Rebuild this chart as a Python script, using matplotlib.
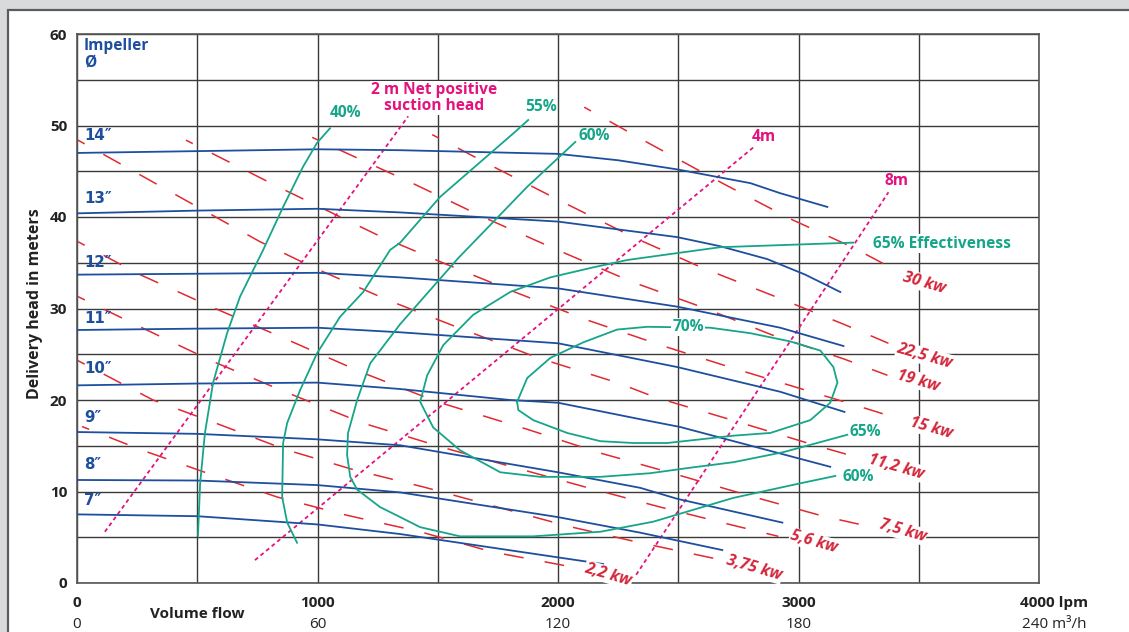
import matplotlib.pyplot as plt
from matplotlib.patches import Rectangle

plt.rcParams['font.family'] = ['Open Sans', 'DejaVu Sans']

# impeller curves (flow in lpm, head in m)
impeller_labels = ['14″', '13″', '12″', '11″', '10″', '9″', '8″', '7″']
impeller_label_h = [48.9, 42.0, 35.0, 28.9, 23.4, 18.1, 13.0, 9.0]
impeller_q = [
    [0, 500, 1000, 1344, 2000, 2250, 2496, 2800, 2924, 3120],
    [0, 500, 1000, 1344, 2000, 2496, 2675, 2870, 3028, 3174],
    [0, 500, 1000, 1344, 2000, 2496, 2924, 3187],
    [0, 500, 1000, 1344, 2000, 2496, 2924, 3191],
    [0, 500, 1000, 1344, 1801, 2000, 2342, 2508, 3132],
    [0, 500, 1000, 1344, 2000, 2342, 2496, 2933],
    [0, 500, 1000, 1344, 2000, 2342, 2683],
    [0, 500, 1000, 1344, 2188],
]
impeller_h = [
    [47.0, 47.2, 47.4, 47.3, 46.9, 46.2, 45.2, 43.7, 42.6, 41.1],
    [40.4, 40.7, 40.9, 40.5, 39.5, 37.8, 36.8, 35.4, 33.7, 31.8],
    [33.7, 33.8, 33.9, 33.4, 32.2, 30.2, 27.9, 25.9],
    [27.65, 27.8, 27.9, 27.4, 26.2, 23.6, 20.9, 18.7],
    [21.6, 21.8, 21.9, 21.2, 20.0, 19.7, 17.9, 17.05, 12.7],
    [16.5, 16.3, 15.7, 15.05, 12.1, 10.4, 9.2, 6.6],
    [11.26, 11.2, 10.7, 9.9, 7.2, 5.5, 3.6],
    [7.5, 7.3, 6.4, 5.35, 2.07],
]

# constant power lines
power_labels = ['30 kw', '22,5 kw', '19 kw', '15 kw', '11,2 kw', '7,5 kw', '5,6 kw', '3,75 kw', '2,2 kw']
power_label_q = [3524, 3524, 3499, 3553, 3407, 3432, 3062, 2816, 2209]
power_label_h = [32.8, 24.8, 22.1, 16.9, 12.7, 5.7, 4.5, 1.6, 0.9]
power_q = [
    [2109, 2375, 2683, 2974, 3224, 3382],
    [1477, 1731, 2022, 2321, 2604, 2904, 3195, 3374],
    [978, 1394, 1697, 1997, 2309, 2604, 2891, 3187, 3370],
    [453, 836, 1260, 1539, 1830, 2126, 2438, 2750, 3228, 3424],
    [4, 399, 761, 990, 1294, 1606, 1918, 2246, 2404, 2737, 3062, 3249],
    [4, 262, 566, 874, 1186, 1498, 1872, 2176, 2475, 2787, 3103, 3307],
    [4, 270, 566, 874, 1186, 1523, 1822, 2126, 2425, 2729, 2916],
    [4, 316, 574, 865, 1148, 1440, 1748, 2043, 2342, 2683],
    [21, 262, 553, 832, 1123, 1427, 1726, 2059],
]
power_h = [
    [52.0, 48.1, 43.7, 39.7, 36.7, 34.5],
    [49.0, 45.5, 41.6, 37.7, 34.4, 31.3, 28.2, 26.2],
    [48.7, 43.7, 39.9, 36.4, 32.9, 30.1, 27.1, 24.5, 22.7],
    [48.4, 43.3, 37.9, 34.8, 31.7, 28.7, 25.9, 23.3, 19.5, 17.9],
    [48.4, 42.6, 37.3, 34.4, 30.9, 27.7, 24.6, 21.9, 20.3, 17.7, 15.1, 13.7],
    [37.3, 33.7, 30.1, 26.6, 23.0, 19.8, 16.8, 14.2, 12.0, 9.6, 7.3, 6.1],
    [31.3, 27.9, 24.2, 20.8, 17.5, 14.8, 12.6, 10.4, 8.3, 6.3, 5.1],
    [24.3, 20.0, 17.5, 14.6, 12.4, 10.5, 8.3, 6.2, 4.4, 2.5],
    [17.1, 14.6, 11.9, 9.4, 7.4, 5.6, 3.4, 1.75],
]

# efficiency curves
eff40_q = [503, 512, 532, 566, 624, 678, 774, 857, 940, 998, 1052]
eff40_h = [5.2, 10.9, 16.4, 21.9, 27.3, 31.3, 36.4, 41.1, 45.5, 48.1, 49.7]
eff55_q = [915, 874, 853, 857, 874, 928, 998, 1094, 1190, 1302, 1344, 1510, 1830, 1876]
eff55_h = [4.4, 6.6, 9.4, 15.3, 17.5, 21.1, 25.1, 29.1, 31.8, 36.4, 37.2, 42.2, 49.5, 50.6]
eff60_q = [2072, 1872, 1585, 1344, 1219, 1165, 1127, 1123, 1136, 1165, 1260, 1344, 1427, 1593,
           1897, 2176, 2396, 2729, 3008, 3153]
eff60_h = [48.2, 43.3, 35.5, 28.3, 24.0, 20.0, 16.4, 14.0, 11.6, 10.2, 8.3, 7.2, 6.1, 5.1,
           5.1, 5.6, 6.7, 9.3, 10.9, 11.7]
eff65_q = [3228, 3008, 2675, 2425, 2288, 2147, 1968, 1801, 1647, 1523, 1456, 1427, 1481, 1593,
           1760, 1926, 2176, 2384, 2550, 2729, 2937, 3203]
eff65_h = [37.2, 37.0, 36.7, 35.8, 35.3, 34.5, 33.4, 31.8, 29.3, 26.0, 22.7, 19.8, 17.0, 14.5,
           12.1, 11.6, 11.6, 12.0, 12.6, 13.2, 14.3, 16.2]
eff70_q = [1830, 1872, 1968, 2105, 2246, 2371, 2633, 2800, 2966, 3091, 3145, 3162, 3132, 3049,
           2883, 2729, 2592, 2454, 2313, 2176, 2038, 1897, 1835, 1830]
eff70_h = [19.8, 22.4, 24.6, 26.3, 27.7, 28.0, 27.9, 27.3, 26.4, 25.4, 23.6, 21.9, 19.7, 17.8,
           16.4, 16.1, 15.7, 15.3, 15.3, 15.5, 16.4, 17.8, 18.9, 19.8]

# NPSH lines
npsh_q = [[116, 1377], [740, 2812], [2325, 3374]]
npsh_h = [[5.6, 51.0], [2.5, 47.6], [0.9, 42.7]]

lpm_ticks = [0, 1000, 2000, 3000]
m3h_labels = ['0', '60', '120', '180']

BLUE = '#1d4f9e'
GREEN = '#16a589'
RED = '#e02a30'
RED_TXT = '#d3263a'
MAGENTA = '#e4127f'
FS = 11.2

fig = plt.figure(figsize=(11.29, 6.32), dpi=100, facecolor='#d9dadc')
fig.patches.append(Rectangle((8 / 1129, -0.02), 1.1, 1.02 - 10 / 632, transform=fig.transFigure,
                             facecolor='white', edgecolor='#5c5c5c', lw=1.6, zorder=-5))

ax = fig.add_axes([77 / 1129, 49 / 632, 962 / 1129, 549 / 632])
ax.set_xlim(0, 4000)
ax.set_ylim(0, 60)
ax.set_xticks(range(0, 4001, 500))
ax.set_yticks(range(0, 61, 5))
ax.set_yticklabels([str(v) if v % 10 == 0 else '' for v in range(0, 61, 5)],
                   fontweight='bold', fontsize=11, color='#222')
ax.set_xticklabels([])
ax.tick_params(length=0, pad=7)
ax.grid(True, color='#3a3a3a', lw=1.0)
ax.set_axisbelow(True)
for s in ax.spines.values():
    s.set_color('#555')
    s.set_linewidth(1.2)

# power lines
for q, h in zip(power_q, power_h):
    ax.plot(q, h, color=RED, lw=1.1, linestyle=(8, (13, 14)), zorder=2)
for txt, q, h in zip(power_labels, power_label_q, power_label_h):
    ax.text(q, h, txt, color=RED_TXT, fontsize=11.5, fontweight='bold', fontstyle='italic',
            rotation=-16, ha='center', va='center', rotation_mode='anchor', zorder=6,
            bbox=dict(fc='white', ec='none', pad=0.5))

# npsh lines
for q, h in zip(npsh_q, npsh_h):
    ax.plot(q, h, color=MAGENTA, lw=1.3, linestyle=(0, (2.2, 1.8)), zorder=2.5)

# impeller curves
for q, h in zip(impeller_q, impeller_h):
    ax.plot(q, h, color=BLUE, lw=1.3, zorder=3)
for txt, h in zip(impeller_labels, impeller_label_h):
    ax.text(29, h, txt, color=BLUE, fontsize=10.8, fontweight='bold', ha='left', va='center',
            family=['DejaVu Sans'], zorder=6)
ax.text(29, 59.6, 'Impeller\nØ', color=BLUE, fontsize=FS, fontweight='bold', ha='left', va='top',
        linespacing=1.05, zorder=6)

# efficiency curves
for q, h in [(eff40_q, eff40_h), (eff55_q, eff55_h), (eff60_q, eff60_h),
             (eff65_q, eff65_h), (eff70_q, eff70_h)]:
    ax.plot(q, h, color=GREEN, lw=1.3, zorder=3)

gbox = dict(fc='white', ec='none', pad=0.8)
ax.text(1115, 51.4, '40%', color=GREEN, fontsize=FS, fontweight='bold', ha='center', va='center', zorder=6)
ax.text(1930, 52.0, '55%', color=GREEN, fontsize=FS, fontweight='bold', ha='center', va='center', zorder=6)
ax.text(2151, 48.9, '60%', color=GREEN, fontsize=FS, fontweight='bold', ha='center', va='center', zorder=6)
ax.text(2542, 28.0, '70%', color=GREEN, fontsize=FS, fontweight='bold', ha='center', va='center',
        zorder=6, bbox=gbox)
ax.text(3311, 37.1, '65% Effectiveness', color=GREEN, fontsize=FS, fontweight='bold', ha='left',
        va='center', zorder=6, bbox=gbox)
ax.text(3212, 16.5, '65%', color=GREEN, fontsize=FS, fontweight='bold', ha='left', va='center', zorder=6)
ax.text(3182, 11.6, '60%', color=GREEN, fontsize=FS, fontweight='bold', ha='left', va='center', zorder=6)

# npsh labels
ax.text(1485, 53.0, '2 m Net positive\nsuction head', color=MAGENTA, fontsize=FS, fontweight='bold',
        ha='center', va='center', linespacing=0.95, zorder=6, bbox=gbox)
ax.text(2854, 48.7, '4m', color=MAGENTA, fontsize=FS, fontweight='bold', ha='center', va='center', zorder=6)
ax.text(3407, 43.9, '8m', color=MAGENTA, fontsize=FS, fontweight='bold', ha='center', va='center', zorder=6)

# x axis labels
for q, lab in zip(lpm_ticks, m3h_labels):
    ax.annotate(str(q), xy=(q, 0), xycoords=('data', 'axes fraction'), xytext=(0, -14.5),
                textcoords='offset points', ha='center', va='center', fontsize=11,
                fontweight='bold', color='#222')
    ax.annotate(lab, xy=(q, 0), xycoords=('data', 'axes fraction'), xytext=(0, -30),
                textcoords='offset points', ha='center', va='center', fontsize=11, color='#222')
ax.annotate('4000 lpm', xy=(3923, 0), xycoords=('data', 'axes fraction'), xytext=(0, -14.5),
            textcoords='offset points', ha='left', va='center', fontsize=11, fontweight='bold',
            color='#222', annotation_clip=False)
ax.annotate('240 m³/h', xy=(3931, 0), xycoords=('data', 'axes fraction'), xytext=(0, -30),
            textcoords='offset points', ha='left', va='center', fontsize=11, color='#222',
            annotation_clip=False)
ax.annotate('Volume flow', xy=(500, 0), xycoords=('data', 'axes fraction'), xytext=(0, -22),
            textcoords='offset points', ha='center', va='center', fontsize=11, fontweight='bold',
            color='#222')

fig.text(35 / 1129, 1 - 304 / 632, 'Delivery head in meters', rotation=90, ha='center', va='center',
         fontsize=11.5, fontweight='bold', color='#222')

fig.savefig('out.png', dpi=100, facecolor=fig.get_facecolor())
